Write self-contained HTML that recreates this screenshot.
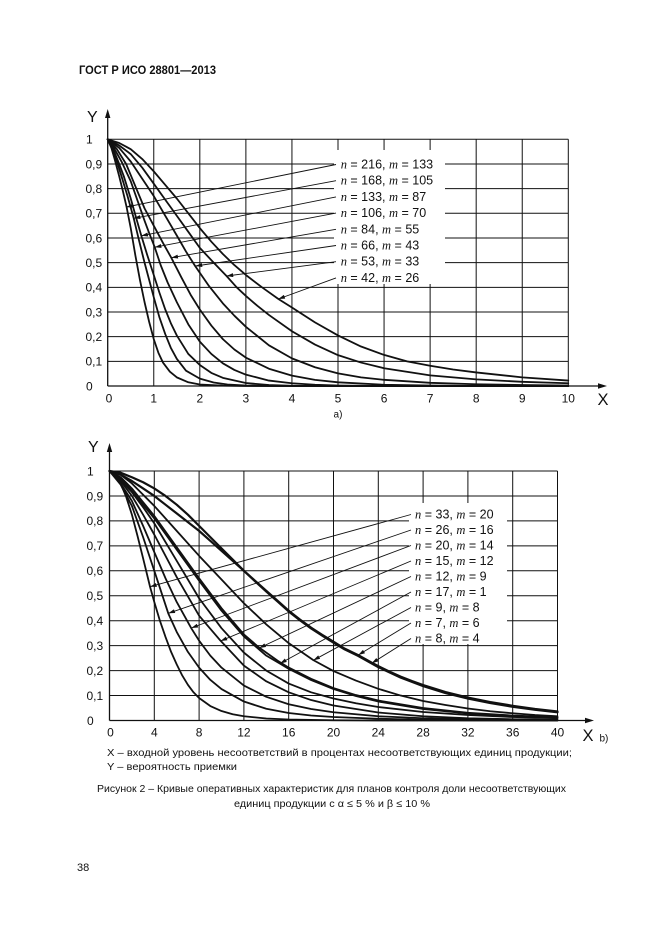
<!DOCTYPE html>
<html><head><meta charset="utf-8">
<style>
html,body{margin:0;padding:0;background:#fff;}
svg{display:block;}
.g polyline{vector-effect:non-scaling-stroke;fill:none;stroke:#111;stroke-width:1.8;stroke-linejoin:round;stroke-linecap:round;}
.g polyline.t{stroke-width:2.2;}
text{font-family:"Liberation Sans","DejaVu Sans",sans-serif;fill:#111;}
.tk{font-size:12px;}
.lb{font-size:12.5px;}
.i{font-family:"Liberation Serif",serif;font-style:italic;}
.ld{stroke:#111;stroke-width:0.9;fill:none;}
</style></head>
<body>
<svg width="661" height="936" viewBox="0 0 661 936" xmlns="http://www.w3.org/2000/svg">
<defs>
<marker id="ah" viewBox="0 0 10 6" refX="10" refY="3" markerWidth="7" markerHeight="4" orient="auto" markerUnits="userSpaceOnUse"><path d="M0,0 L10,3 L0,6 z" fill="#111"/></marker>
</defs>
<rect width="661" height="936" fill="#fff"/>

<text x="79" y="74" font-size="11.5" font-weight="bold" textLength="137" lengthAdjust="spacingAndGlyphs">ГОСТ Р ИСО 28801—2013</text>

<!-- ===== Chart a ===== -->
<path d="M153.76 139.3V386M199.82 139.3V386M245.88 139.3V386M291.94 139.3V386M338 139.3V386M384.06 139.3V386M430.12 139.3V386M476.18 139.3V386M522.24 139.3V386M568.3 139.3V386
M107.7 361.33H568.3M107.7 336.66H568.3M107.7 311.99H568.3M107.7 287.32H568.3M107.7 262.65H568.3M107.7 237.98H568.3M107.7 213.31H568.3M107.7 188.64H568.3M107.7 163.97H568.3M107.7 139.3H568.3" stroke="#111" stroke-width="1" fill="none"/>
<rect x="334" y="150" width="111" height="134" fill="#fff"/>
<path d="M107.7 386H601M107.7 386V116" stroke="#111" stroke-width="1.3" fill="none"/>
<path d="M607 386L598 383.3L598 388.7Z M107.7 109L105 118L110.4 118Z" fill="#111"/>

<g class="g" transform="translate(107.7 386) scale(46.06 -246.7)">
<polyline points="0,1 0.08,0.965 0.15,0.92 0.25,0.85 0.33,0.79 0.41,0.726 0.5,0.64 0.6,0.53 0.7,0.43 0.8,0.34 0.9,0.26 1,0.19 1.1,0.135 1.2,0.095 1.35,0.058 1.5,0.035 1.75,0.015 2,0.006 2.5,0.0015 3,0 10,0"/>
<polyline points="0,1 0.1,0.96 0.2,0.91 0.3,0.85 0.43,0.77 0.565,0.68 0.68,0.59 0.8,0.5 0.9,0.43 1,0.36 1.12,0.28 1.25,0.21 1.37,0.155 1.5,0.11 1.7,0.062 2,0.03 2.3,0.014 2.6,0.006 3,0.002 3.5,0 10,0"/>
<polyline points="0,1 0.12,0.96 0.25,0.9 0.35,0.85 0.5,0.76 0.62,0.68 0.73,0.609 0.86,0.53 1,0.45 1.12,0.38 1.25,0.31 1.37,0.255 1.5,0.205 1.75,0.13 2,0.085 2.25,0.053 2.5,0.033 3,0.012 3.5,0.004 4,0.001 4.5,0 10,0"/>
<polyline points="0,1 0.15,0.96 0.3,0.91 0.5,0.83 0.65,0.75 0.8,0.67 0.9,0.62 1.02,0.563 1.15,0.49 1.3,0.42 1.5,0.34 1.75,0.25 2,0.18 2.25,0.13 2.5,0.092 2.75,0.065 3,0.046 3.5,0.022 4,0.011 4.5,0.005 5,0.002 6,0 10,0"/>
<polyline points="0,1 0.2,0.96 0.4,0.9 0.6,0.81 0.8,0.72 1,0.65 1.2,0.58 1.38,0.52 1.6,0.44 1.8,0.37 2,0.31 2.25,0.245 2.5,0.19 2.75,0.148 3,0.115 3.5,0.07 4,0.042 4.5,0.025 5,0.015 6,0.005 7,0.002 8,0 10,0"/>
<polyline points="0,1 0.25,0.965 0.5,0.91 0.75,0.84 1,0.77 1.25,0.69 1.5,0.61 1.7,0.545 1.9,0.486 2.2,0.405 2.5,0.335 2.75,0.285 3,0.24 3.5,0.165 4,0.112 4.5,0.076 5,0.051 5.5,0.035 6,0.025 7,0.013 8,0.007 9,0.004 10,0.002"/>
<polyline points="0,1 0.25,0.975 0.5,0.94 0.75,0.885 1,0.82 1.25,0.755 1.5,0.69 1.75,0.625 2,0.56 2.3,0.5 2.58,0.446 2.8,0.4 3,0.365 3.25,0.325 3.5,0.288 4,0.222 4.5,0.168 5,0.125 5.5,0.095 6,0.072 7,0.043 8,0.027 9,0.017 10,0.011"/>
<polyline points="0,1 0.25,0.985 0.5,0.96 0.75,0.92 1,0.87 1.25,0.815 1.5,0.76 1.75,0.7 2,0.64 2.25,0.585 2.5,0.535 2.75,0.49 3,0.45 3.35,0.4 3.71,0.352 4,0.318 4.5,0.258 5,0.205 5.5,0.16 6,0.126 6.5,0.1 7,0.082 7.5,0.067 8,0.055 9,0.035 10,0.022"/>
</g>

<g class="ld">
<line x1="336" y1="164.5" x2="126.3" y2="207" marker-end="url(#ah)"/>
<line x1="336" y1="180.7" x2="133.7" y2="218.3" marker-end="url(#ah)"/>
<line x1="336" y1="196.9" x2="141.3" y2="235.8" marker-end="url(#ah)"/>
<line x1="336" y1="213.1" x2="154.7" y2="247.2" marker-end="url(#ah)"/>
<line x1="336" y1="229.3" x2="171.3" y2="257.7" marker-end="url(#ah)"/>
<line x1="336" y1="245.5" x2="195.5" y2="266" marker-end="url(#ah)"/>
<line x1="336" y1="261.7" x2="226.5" y2="276" marker-end="url(#ah)"/>
<line x1="336" y1="277.9" x2="278.3" y2="299" marker-end="url(#ah)"/>
</g>

<g class="lb">
<text x="340.7" y="168.5"><tspan class="i">n</tspan> = 216, <tspan class="i">m</tspan> = 133</text>
<text x="340.7" y="184.7"><tspan class="i">n</tspan> = 168, <tspan class="i">m</tspan> = 105</text>
<text x="340.7" y="200.9"><tspan class="i">n</tspan> = 133, <tspan class="i">m</tspan> = 87</text>
<text x="340.7" y="217.1"><tspan class="i">n</tspan> = 106, <tspan class="i">m</tspan> = 70</text>
<text x="340.7" y="233.3"><tspan class="i">n</tspan> = 84, <tspan class="i">m</tspan> = 55</text>
<text x="340.7" y="249.5"><tspan class="i">n</tspan> = 66, <tspan class="i">m</tspan> = 43</text>
<text x="340.7" y="265.7"><tspan class="i">n</tspan> = 53, <tspan class="i">m</tspan> = 33</text>
<text x="340.7" y="281.9"><tspan class="i">n</tspan> = 42, <tspan class="i">m</tspan> = 26</text>
</g>

<text x="87" y="122" font-size="16">Y</text>
<g class="tk">
<text x="86" y="143.6">1</text>
<text x="85.5" y="168.3">0,9</text>
<text x="85.5" y="192.9">0,8</text>
<text x="85.5" y="217.6">0,7</text>
<text x="85.5" y="242.3">0,6</text>
<text x="85.5" y="267">0,5</text>
<text x="85.5" y="291.6">0,4</text>
<text x="85.5" y="316.3">0,3</text>
<text x="85.5" y="341">0,2</text>
<text x="85.5" y="365.6">0,1</text>
<text x="86" y="390.3">0</text>
</g>
<g class="tk" text-anchor="middle">
<text x="109" y="402.3">0</text>
<text x="153.76" y="402.3">1</text>
<text x="199.82" y="402.3">2</text>
<text x="245.88" y="402.3">3</text>
<text x="291.94" y="402.3">4</text>
<text x="338" y="402.3">5</text>
<text x="384.06" y="402.3">6</text>
<text x="430.12" y="402.3">7</text>
<text x="476.18" y="402.3">8</text>
<text x="522.24" y="402.3">9</text>
<text x="568.3" y="402.3">10</text>
</g>
<text x="597.5" y="405" font-size="16.5">X</text>
<text x="338" y="417.5" font-size="10" text-anchor="middle">а)</text>

<!-- ===== Chart b ===== -->
<path d="M154.3 471V720.5M199.1 471V720.5M243.9 471V720.5M288.7 471V720.5M333.5 471V720.5M378.3 471V720.5M423.1 471V720.5M467.9 471V720.5M512.7 471V720.5M557.5 471V720.5
M109.5 695.55H557.5M109.5 670.6H557.5M109.5 645.65H557.5M109.5 620.7H557.5M109.5 595.75H557.5M109.5 570.8H557.5M109.5 545.85H557.5M109.5 520.9H557.5M109.5 495.95H557.5M109.5 471H557.5" stroke="#111" stroke-width="1" fill="none"/>
<rect x="409" y="503" width="98" height="141" fill="#fff"/>
<path d="M109.5 720.5H588M109.5 720.5V450" stroke="#111" stroke-width="1.3" fill="none"/>
<path d="M594 720.5L585 717.8L585 723.2Z M109.5 443L106.8 452L112.2 452Z" fill="#111"/>

<g class="g" transform="translate(109.5 720.5) scale(11.2 -249.5)">
<polyline class="t" points="0,1 1,0.993 2,0.975 3,0.955 4,0.93 5,0.9 6,0.865 7,0.825 8,0.78 9,0.735 10,0.69 11,0.645 12,0.6 13,0.56 14,0.52 15,0.48 16,0.44 17,0.405 18,0.372 19,0.343 20,0.316 21,0.288 22.2,0.262 23.4,0.232 24,0.218 25,0.196 26,0.176 27,0.158 28,0.142 30,0.114 32,0.092 34,0.074 36,0.059 38,0.046 40,0.036"/>
<polyline class="t" points="0,1 1,0.985 2,0.96 3,0.93 4,0.9 5,0.865 6,0.83 7,0.795 8,0.76 9,0.72 10,0.68 11,0.64 12,0.6 13,0.558 14,0.517 15,0.477 16,0.437 17,0.402 18,0.369 19,0.34 20,0.312 21,0.285 22.2,0.259 24,0.214 26,0.172 28,0.138 30,0.11 32,0.088 34,0.07 36,0.055 38,0.043 40,0.033"/>
<polyline points="0,1 1,0.985 2,0.95 3,0.905 4,0.86 6,0.76 8,0.66 10,0.565 12,0.47 14,0.385 16,0.31 18.2,0.242 20,0.198 22,0.16 24,0.127 26,0.1 28,0.078 30,0.062 32,0.048 34,0.037 36,0.029 38,0.022 40,0.017"/>
<polyline points="0,1 1,0.975 2,0.93 3,0.875 4,0.82 6,0.695 8,0.57 10,0.45 12,0.345 13.37,0.292 15,0.24 16,0.212 18,0.167 20,0.13 22,0.102 24,0.08 28,0.05 32,0.031 36,0.02 40,0.013"/>
<polyline points="0,1 1,0.97 2,0.92 3,0.865 4,0.81 6,0.685 8,0.56 10,0.44 12,0.337 14,0.26 15.22,0.228 16,0.207 18,0.162 20,0.126 22,0.098 24,0.076 28,0.046 32,0.028 36,0.018 40,0.011"/>
<polyline points="0,1 1,0.965 2,0.915 3,0.855 4,0.79 6,0.64 8,0.49 10,0.37 12,0.272 14,0.2 16,0.148 18,0.113 20,0.088 22,0.069 24,0.054 28,0.034 32,0.022 36,0.014 40,0.009"/>
<polyline points="0,1 1,0.96 2,0.9 3,0.825 4,0.745 6,0.575 8,0.42 9.91,0.32 12,0.22 14,0.157 16,0.113 18,0.082 20,0.06 24,0.032 28,0.017 32,0.009 36,0.005 40,0.003"/>
<polyline points="0,1 1,0.95 2,0.88 3,0.78 4,0.675 5,0.57 6,0.475 7.3,0.37 8,0.32 9,0.26 10,0.212 12,0.14 14,0.095 16,0.065 18,0.046 20,0.033 24,0.017 28,0.009 32,0.005 40,0.001"/>
<polyline points="0,1 1,0.945 2,0.86 3,0.735 4,0.6 5.25,0.429 6,0.355 7,0.275 8,0.212 9,0.163 10,0.126 12,0.076 14,0.047 16,0.03 18,0.02 20,0.014 24,0.007 28,0.003 32,0.001 40,0"/>
<polyline points="0,1 0.5,0.985 1,0.95 1.5,0.895 2,0.825 2.5,0.74 3,0.65 3.62,0.536 4,0.475 4.5,0.4 5,0.335 5.5,0.275 6,0.225 6.5,0.18 7,0.143 7.5,0.113 8,0.09 9,0.058 10,0.038 11,0.025 12,0.017 14,0.008 16,0.004 20,0.001 24,0 40,0"/>
</g>

<g class="ld">
<line x1="411" y1="514.5" x2="150" y2="586.7" marker-end="url(#ah)"/>
<line x1="411" y1="530" x2="168.3" y2="613.3" marker-end="url(#ah)"/>
<line x1="411" y1="545.5" x2="191.3" y2="628" marker-end="url(#ah)"/>
<line x1="411" y1="561" x2="220.5" y2="641" marker-end="url(#ah)"/>
<line x1="411" y1="576.5" x2="259.2" y2="648" marker-end="url(#ah)"/>
<line x1="411" y1="592" x2="280" y2="663.5" marker-end="url(#ah)"/>
<line x1="411" y1="607.5" x2="313.3" y2="660.3" marker-end="url(#ah)"/>
<line x1="411" y1="623" x2="358.3" y2="655" marker-end="url(#ah)"/>
<line x1="411" y1="638.5" x2="371.7" y2="663.3" marker-end="url(#ah)"/>
</g>

<g class="lb">
<text x="415" y="518.5"><tspan class="i">n</tspan> = 33, <tspan class="i">m</tspan> = 20</text>
<text x="415" y="534"><tspan class="i">n</tspan> = 26, <tspan class="i">m</tspan> = 16</text>
<text x="415" y="549.5"><tspan class="i">n</tspan> = 20, <tspan class="i">m</tspan> = 14</text>
<text x="415" y="565"><tspan class="i">n</tspan> = 15, <tspan class="i">m</tspan> = 12</text>
<text x="415" y="580.5"><tspan class="i">n</tspan> = 12, <tspan class="i">m</tspan> = 9</text>
<text x="415" y="596"><tspan class="i">n</tspan> = 17, <tspan class="i">m</tspan> = 1</text>
<text x="415" y="611.5"><tspan class="i">n</tspan> = 9, <tspan class="i">m</tspan> = 8</text>
<text x="415" y="627"><tspan class="i">n</tspan> = 7, <tspan class="i">m</tspan> = 6</text>
<text x="415" y="642.5"><tspan class="i">n</tspan> = 8, <tspan class="i">m</tspan> = 4</text>
</g>

<text x="88" y="452" font-size="16">Y</text>
<g class="tk">
<text x="87" y="475.3">1</text>
<text x="86.5" y="500.3">0,9</text>
<text x="86.5" y="525.2">0,8</text>
<text x="86.5" y="550.2">0,7</text>
<text x="86.5" y="575.1">0,6</text>
<text x="86.5" y="600.1">0,5</text>
<text x="86.5" y="625">0,4</text>
<text x="86.5" y="650">0,3</text>
<text x="86.5" y="674.9">0,2</text>
<text x="86.5" y="699.9">0,1</text>
<text x="87" y="724.8">0</text>
</g>
<g class="tk" text-anchor="middle">
<text x="110.5" y="736.5">0</text>
<text x="154.3" y="736.5">4</text>
<text x="199.1" y="736.5">8</text>
<text x="243.9" y="736.5">12</text>
<text x="288.7" y="736.5">16</text>
<text x="333.5" y="736.5">20</text>
<text x="378.3" y="736.5">24</text>
<text x="423.1" y="736.5">28</text>
<text x="467.9" y="736.5">32</text>
<text x="512.7" y="736.5">36</text>
<text x="557.5" y="736.5">40</text>
</g>
<text x="582.5" y="741" font-size="16.5">X</text>
<text x="599.5" y="741.5" font-size="10">b)</text>

<!-- legend & caption -->
<text x="107" y="756" font-size="10.5" textLength="465" lengthAdjust="spacingAndGlyphs">X – входной уровень несоответствий в процентах несоответствующих единиц продукции;</text>
<text x="107" y="770" font-size="10.5" textLength="130" lengthAdjust="spacingAndGlyphs">Y – вероятность приемки</text>
<text x="97" y="792" font-size="10.5" textLength="469" lengthAdjust="spacingAndGlyphs">Рисунок 2 – Кривые оперативных характеристик для планов контроля доли несоответствующих</text>
<text x="234" y="807" font-size="10.5" textLength="196" lengthAdjust="spacingAndGlyphs">единиц продукции с α ≤ 5 % и β ≤ 10 %</text>

<text x="77" y="871" font-size="11">38</text>
</svg>
</body></html>
